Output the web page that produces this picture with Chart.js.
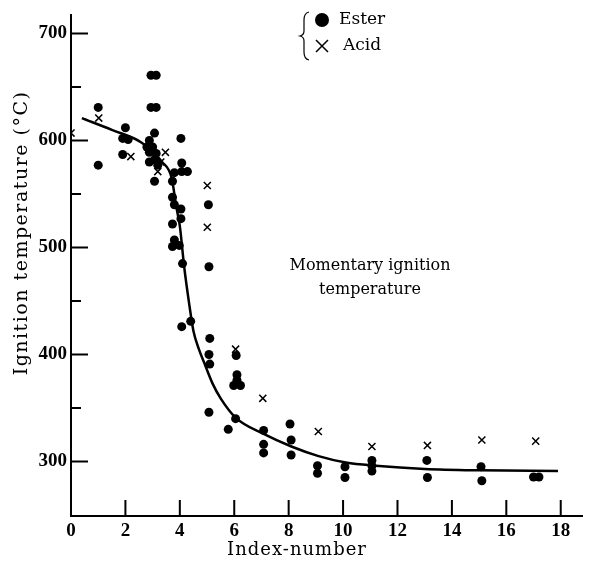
<!DOCTYPE html>
<html>
<head>
<meta charset="utf-8">
<script src="https://cdn.jsdelivr.net/npm/chart.js@4"></script>
<style>
  html, body { margin: 0; padding: 0; background: #fff; }
  #wrap { width: 589px; height: 570px; }
</style>
</head>
<body>
<div id="wrap"><canvas id="chart" width="589" height="570"></canvas></div>
<script>
// values
const esterIndex = [1, 1, 2, 1.9, 2.1, 1.9,
    2.94, 3.13, 2.94, 3.13,
    3.07, 2.88, 2.79, 3.0, 2.88, 3.13, 3.07, 2.88, 3.19, 3.07,
    4.04, 4.07, 3.8, 4.07, 4.28, 3.73, 3.73, 3.8, 4.04, 3.73, 4.04, 3.8, 3.73, 3.98, 4.1, 4.07, 4.4,
    5.05, 5.07, 5.1, 5.07, 5.1, 5.07,
    6.07, 6.1, 5.98, 6.23, 6.1, 5.78, 6.05,
    7.08, 7.08, 7.08,
    8.05, 8.09, 8.09,
    9.06, 9.06,
    10.07, 10.07,
    11.06, 11.06, 11.06,
    13.08, 13.1,
    15.07, 15.1,
    17.0, 17.2];
const esterTemp = [631, 577, 612, 602, 601, 587,
    661, 661, 631, 631,
    607, 600, 594, 594, 589, 588, 582, 580, 577, 562,
    602, 579, 570, 571, 571, 562, 547, 540, 536, 522, 527, 507, 501, 502, 485, 426, 431,
    540, 482, 415, 400, 391, 346,
    399, 381, 371, 371, 376, 330, 340,
    329, 316, 308,
    335, 320, 306,
    296, 289,
    295, 285,
    301, 296, 291,
    301, 285,
    295, 282,
    285.5, 285.5];

const acidIndex = [0, 1.02, 2.2, 3.47, 3.3, 3.19, 5.01, 5.01, 6.05, 7.05, 9.09, 11.06, 13.1, 15.1, 17.08];
const acidTemp = [607, 621, 585, 589, 580, 571, 558, 519, 405, 359, 328, 314, 315, 320, 319];

const curveIndex = [0.4, 1.5, 2.6, 3.35, 3.7, 3.87, 4.0, 4.16, 4.34, 4.5, 4.7, 4.9, 5.2, 5.5, 6.05, 7.1, 8.1, 9.1, 10.1, 11.2, 13, 15, 17.9];
const curveTemp = [621, 610, 598, 580, 565, 538, 520, 482, 448, 422, 405, 392, 373, 359, 341, 325.5, 314, 305, 299, 296, 293, 291.7, 291];

const xTicks = [0, 2, 4, 6, 8, 10, 12, 14, 16, 18];
const yTicks = [300, 400, 500, 600, 700];
const yMinorTicks = [350, 450, 550, 650];

function pairs(xs, ys) {
    return xs.map((x, i) => ({ x: x, y: ys[i] }));
}

const serif = "'DejaVu Serif', 'Liberation Serif', serif";
const tickFont = { family: "'Liberation Serif', serif", size: 19, weight: "bold" };

// inward tick marks, axis titles, extra text and the legend
const decorations = {
    id: "decorations",
    afterDraw(chart) {
        const ctx = chart.ctx;
        const area = chart.chartArea;
        const xs = chart.scales.x;
        const ys = chart.scales.y;

        ctx.save();
        ctx.strokeStyle = "#000";
        ctx.lineWidth = 2;
        ctx.beginPath();
        yTicks.forEach(v => {
            const p = ys.getPixelForValue(v);
            ctx.moveTo(area.left, p);
            ctx.lineTo(area.left + 17, p);
        });
        yMinorTicks.forEach(v => {
            const p = ys.getPixelForValue(v);
            ctx.moveTo(area.left, p);
            ctx.lineTo(area.left + 10, p);
        });
        xTicks.forEach(v => {
            if (v === 0) return;
            const p = xs.getPixelForValue(v);
            ctx.moveTo(p, area.bottom);
            ctx.lineTo(p, area.bottom - 16);
        });
        ctx.stroke();

        ctx.fillStyle = "#000";
        ctx.textAlign = "center";
        ctx.textBaseline = "middle";

        // axis titles
        ctx.font = "18px " + serif;
        ctx.letterSpacing = "1px";
        ctx.fillText("Index-number", 297, 550);
        ctx.save();
        ctx.translate(22, 233);
        ctx.rotate(-Math.PI / 2);
        ctx.font = "19px " + serif;
        ctx.letterSpacing = "1.5px";
        ctx.fillText("Ignition temperature (°C)", 0, 0);
        ctx.restore();
        ctx.letterSpacing = "0px";

        ctx.font = "16px " + serif;
        ctx.fillText("Momentary ignition", 370, 266);
        ctx.fillText("temperature", 370, 290);

        // legend with brace
        ctx.lineWidth = 1.2;
        ctx.beginPath();
        ctx.moveTo(309, 12);
        ctx.quadraticCurveTo(304, 13, 304, 20);
        ctx.lineTo(304, 31);
        ctx.quadraticCurveTo(304, 35, 300, 36);
        ctx.quadraticCurveTo(304, 37, 304, 41);
        ctx.lineTo(304, 52);
        ctx.quadraticCurveTo(304, 59, 309, 60);
        ctx.stroke();

        ctx.beginPath();
        ctx.arc(322, 20, 7, 0, Math.PI * 2);
        ctx.fill();

        ctx.lineWidth = 1.5;
        ctx.beginPath();
        ctx.moveTo(316, 40);
        ctx.lineTo(328, 52);
        ctx.moveTo(328, 40);
        ctx.lineTo(316, 52);
        ctx.stroke();

        ctx.textAlign = "left";
        ctx.font = "17px " + serif;
        ctx.fillText("Ester", 339, 20);
        ctx.fillText("Acid", 343, 46);
        ctx.restore();
    }
};

new Chart(document.getElementById("chart"), {
    type: "scatter",
    data: {
        datasets: [
            {
                type: "line",
                label: "curve",
                data: pairs(curveIndex, curveTemp),
                borderColor: "#000",
                borderWidth: 2.5,
                pointRadius: 0,
                cubicInterpolationMode: "monotone",
                fill: false
            },
            {
                label: "Ester",
                data: pairs(esterIndex, esterTemp),
                backgroundColor: "#000",
                borderWidth: 0,
                pointRadius: 4.5
            },
            {
                label: "Acid",
                data: pairs(acidIndex, acidTemp),
                pointStyle: "crossRot",
                borderColor: "#000",
                borderWidth: 1.5,
                pointRadius: 5
            }
        ]
    },
    options: {
        responsive: false,
        animation: false,
        layout: { padding: { top: 8, right: 3, left: 0, bottom: 0 } },
        plugins: {
            legend: { display: false },
            tooltip: { enabled: false }
        },
        scales: {
            x: {
                type: "linear",
                min: 0,
                max: 18.8,
                afterBuildTicks(scale) {
                    scale.ticks = xTicks.map(v => ({ value: v }));
                },
                afterFit(scale) { scale.height = 54; },
                grid: { display: false, drawTicks: false },
                border: { display: true, color: "#000", width: 2 },
                ticks: { color: "#000", font: tickFont, padding: 4 }
            },
            y: {
                type: "linear",
                min: 249,
                max: 717,
                afterBuildTicks(scale) {
                    scale.ticks = yTicks.map(v => ({ value: v }));
                },
                afterFit(scale) { scale.width = 71; },
                grid: { display: false, drawTicks: false },
                border: { display: true, color: "#000", width: 2 },
                ticks: { color: "#000", font: tickFont, padding: 4 }
            }
        }
    },
    plugins: [decorations]
});
</script>
</body>
</html>
